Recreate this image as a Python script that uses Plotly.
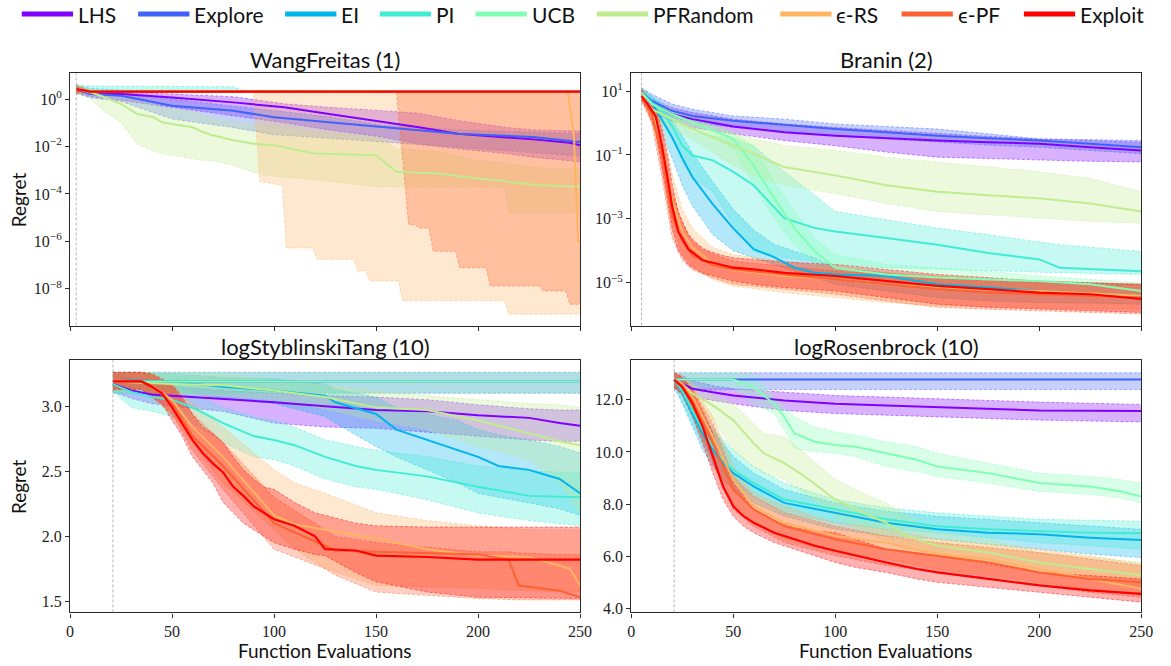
import plotly.graph_objects as go

NAMES = ["LHS", "Explore", "EI", "PI", "UCB", "PFRandom", "ϵ-RS", "ϵ-PF", "Exploit"]
COLORS = ["#8000ff", "#4062fa", "#00b4ec", "#40ecd4", "#80ffb4",
          "#bfec8e", "#ffb462", "#ff6232", "#ff0000"]

X_TICKS = [0, 50, 100, 150, 200, 250]
INIT_EVALS = [3, 5, 21, 21]
PANEL_TITLES = ["WangFreitas (1)", "Branin (2)", "logStyblinskiTang (10)", "logRosenbrock (10)"]

# ---------------- WangFreitas (1): log10 of regret ----------------
WF_LHS_X = [3, 10, 25, 50, 80, 105, 127, 153, 171, 190, 214, 227, 245, 250]
WF_LHS_MED = [0.42, 0.21, 0.21, 0.07, -0.14, -0.35, -0.63, -0.95, -1.19, -1.46, -1.60, -1.70, -1.84, -1.95]
WF_LHS_LO = [0.25, 0.10, -0.05, -0.35, -0.70, -1.00, -1.30, -1.60, -1.90, -2.10, -2.30, -2.45, -2.60, -2.65]
WF_LHS_HI = [0.55, 0.35, 0.30, 0.20, 0.10, -0.20, -0.35, -0.49, -0.60, -0.90, -1.20, -1.30, -1.35, -1.35]

WF_EXP_X = [3, 10, 25, 50, 80, 100, 127, 153, 190, 227, 250]
WF_EXP_MED = [0.42, 0.21, 0.14, -0.28, -0.49, -0.77, -0.98, -1.19, -1.46, -1.60, -1.81]
WF_EXP_LO = [0.25, 0.05, -0.10, -0.84, -1.20, -1.50, -1.65, -1.81, -2.05, -2.25, -2.40]
WF_EXP_HI = [0.55, 0.35, 0.30, 0.00, -0.30, -0.50, -0.75, -1.10, -1.30, -1.40, -1.45]

WF_EI_X = [3, 10, 30, 250]
WF_EI_MED = [0.42, 0.31, 0.31, 0.31]
WF_EI_LO = [0.22, 0.26, 0.29, 0.29]
WF_EI_HI = [0.58, 0.45, 0.36, 0.34]

WF_PI_X = [3, 10, 80, 85, 250]
WF_PI_MED = [0.45, 0.33, 0.31, 0.31, 0.31]
WF_PI_LO = [0.25, 0.28, 0.29, 0.29, 0.29]
WF_PI_HI = [0.60, 0.55, 0.52, 0.36, 0.36]

WF_UCB_X = [3, 10, 250]
WF_UCB_MED = [0.42, 0.31, 0.31]
WF_UCB_LO = [0.25, 0.28, 0.28]
WF_UCB_HI = [0.55, 0.40, 0.34]

WF_PFR_X = [3, 10, 15, 25, 33, 41, 45, 60, 65, 70, 80, 90, 100, 120, 150, 155, 160, 180, 200, 213, 215, 230, 250]
WF_PFR_MED = [0.42, 0.28, 0.14, -0.21, -0.63, -0.77, -0.98, -1.19, -1.39, -1.53, -1.74, -1.88, -1.95, -2.30, -2.37, -2.72, -3.07, -3.14, -3.35, -3.45, -3.50, -3.63, -3.70]
WF_PFR_LO = [0.25, 0.00, -0.40, -1.00, -1.90, -2.20, -2.30, -2.50, -2.58, -2.60, -2.80, -3.10, -3.25, -3.40, -3.70, -3.70, -3.70, -3.70, -3.70, -3.70, -4.80, -4.80, -4.80]
WF_PFR_HI = [0.55, 0.45, 0.35, 0.20, 0.00, -0.20, -0.35, -0.50, -0.65, -0.80, -0.95, -1.05, -1.15, -1.40, -1.60, -1.80, -2.10, -2.20, -2.60, -2.70, -2.75, -2.90, -3.00]

WF_ERS_X = [3, 10, 90, 93, 104, 106, 119, 121, 139, 141, 145, 147, 161, 163, 213, 215, 244, 247, 249, 250]
WF_ERS_MED = [0.42, 0.31, 0.31, 0.31, 0.31, 0.31, 0.31, 0.31, 0.31, 0.31, 0.31, 0.31, 0.31, 0.31, 0.31, 0.31, 0.31, -1.50, -6.00, -6.00]
WF_ERS_LO = [0.22, 0.28, 0.28, -3.49, -3.63, -6.28, -6.28, -6.76, -6.76, -7.25, -7.25, -7.67, -7.67, -8.51, -8.51, -9.07, -9.07, -9.07, -9.07, -9.07]
WF_ERS_HI = [0.58, 0.35, 0.33, 0.33, 0.33, 0.33, 0.33, 0.33, 0.33, 0.33, 0.33, 0.33, 0.33, 0.33, 0.33, 0.33, 0.33, 0.33, 0.33, 0.33]

WF_EPF_X = [3, 10, 160, 166, 169, 171, 176, 178, 189, 191, 204, 206, 230, 232, 243, 245, 250]
WF_EPF_MED = [0.42, 0.31, 0.31, 0.31, 0.31, 0.31, 0.31, 0.31, 0.31, 0.31, 0.31, 0.31, 0.31, 0.31, 0.31, 0.31, 0.31]
WF_EPF_LO = [0.22, 0.28, 0.28, -5.30, -5.30, -5.44, -5.44, -6.42, -6.42, -7.11, -7.11, -7.88, -7.88, -8.09, -8.09, -8.65, -8.65]
WF_EPF_HI = [0.58, 0.35, 0.33, 0.33, 0.33, 0.33, 0.33, 0.33, 0.33, 0.33, 0.33, 0.33, 0.33, 0.33, 0.33, 0.33, 0.33]

WF_EXT_X = [3, 10, 250]
WF_EXT_MED = [0.42, 0.31, 0.31]
WF_EXT_LO = [0.30, 0.29, 0.29]
WF_EXT_HI = [0.50, 0.33, 0.33]

# ---------------- Branin (2): log10 of regret ----------------
BR_LHS_X = [5, 10, 20, 30, 50, 75, 100, 125, 150, 175, 200, 225, 250]
BR_LHS_MED = [0.90, 0.59, 0.28, 0.12, -0.11, -0.29, -0.40, -0.48, -0.55, -0.60, -0.65, -0.76, -0.86]
BR_LHS_LO = [0.69, 0.33, 0.07, -0.14, -0.34, -0.55, -0.71, -0.91, -1.07, -1.12, -1.17, -1.20, -1.22]
BR_LHS_HI = [1.05, 0.74, 0.48, 0.33, 0.12, -0.03, -0.14, -0.24, -0.34, -0.42, -0.50, -0.55, -0.60]

BR_EXP_X = [5, 10, 20, 30, 50, 75, 100, 125, 150, 175, 200, 225, 250]
BR_EXP_MED = [0.95, 0.69, 0.38, 0.22, 0.07, -0.07, -0.19, -0.29, -0.40, -0.48, -0.55, -0.65, -0.76]
BR_EXP_LO = [0.79, 0.48, 0.17, 0.02, -0.14, -0.27, -0.40, -0.50, -0.60, -0.69, -0.76, -0.86, -0.96]
BR_EXP_HI = [1.10, 0.90, 0.59, 0.43, 0.22, 0.12, -0.03, -0.11, -0.19, -0.34, -0.50, -0.52, -0.55]

BR_EI_X = [5, 10, 15, 20, 25, 30, 40, 50, 60, 70, 80, 90, 100, 125, 150, 175, 200, 225, 250]
BR_EI_MED = [0.95, 0.64, 0.10, -0.45, -1.10, -1.70, -2.55, -3.30, -3.95, -4.20, -4.53, -4.69, -4.74, -4.79, -5.05, -5.15, -5.26, -5.36, -5.41]
BR_EI_LO = [0.79, 0.33, -0.35, -1.10, -1.95, -2.60, -3.50, -4.00, -4.22, -4.43, -4.64, -4.84, -5.05, -5.26, -5.46, -5.57, -5.62, -5.64, -5.67]
BR_EI_HI = [1.10, 0.84, 0.55, 0.10, -0.40, -0.95, -1.85, -2.70, -3.35, -3.80, -4.02, -4.22, -4.53, -4.69, -4.84, -4.89, -4.95, -5.00, -5.05]

BR_PI_X = [5, 10, 15, 20, 25, 30, 40, 50, 60, 75, 90, 100, 125, 150, 175, 200, 210, 250]
BR_PI_MED = [0.95, 0.64, 0.38, -0.09, -0.71, -1.02, -1.17, -1.53, -1.95, -2.98, -3.29, -3.40, -3.60, -3.81, -4.07, -4.27, -4.53, -4.64]
BR_PI_LO = [0.79, 0.43, 0.02, -0.50, -1.22, -1.74, -2.15, -3.19, -4.02, -4.22, -4.33, -4.43, -4.53, -4.58, -4.64, -4.69, -4.69, -4.74]
BR_PI_HI = [1.10, 0.84, 0.64, 0.33, 0.02, -0.29, -0.40, -0.50, -0.71, -1.53, -2.26, -2.77, -3.03, -3.29, -3.50, -3.71, -3.81, -4.02]

BR_UCB_X = [5, 10, 20, 30, 40, 50, 60, 70, 80, 90, 100, 125, 150, 175, 200, 225, 250]
BR_UCB_MED = [0.95, 0.59, 0.28, 0.02, -0.24, -0.50, -1.33, -2.36, -3.29, -4.02, -4.53, -4.74, -4.84, -4.89, -4.95, -5.05, -5.26]
BR_UCB_LO = [0.79, 0.43, 0.12, -0.14, -0.45, -0.81, -1.95, -2.98, -3.81, -4.43, -4.84, -4.95, -5.05, -5.15, -5.26, -5.36, -5.46]
BR_UCB_HI = [1.10, 0.74, 0.43, 0.17, -0.09, -0.34, -0.71, -1.84, -2.77, -3.60, -4.12, -4.43, -4.53, -4.64, -4.79, -4.89, -5.00]

BR_PFR_X = [5, 10, 20, 30, 40, 50, 60, 75, 100, 125, 150, 175, 200, 225, 250]
BR_PFR_MED = [0.90, 0.43, 0.12, -0.19, -0.45, -0.71, -0.96, -1.38, -1.64, -1.95, -2.15, -2.26, -2.36, -2.52, -2.77]
BR_PFR_LO = [0.74, 0.17, -0.19, -0.50, -0.91, -1.33, -1.64, -1.95, -2.21, -2.52, -2.77, -2.88, -2.98, -3.08, -3.14]
BR_PFR_HI = [1.05, 0.69, 0.38, 0.12, -0.09, -0.29, -0.50, -0.71, -0.86, -1.07, -1.22, -1.38, -1.53, -1.74, -2.15]

BR_ERS_X = [5, 10, 15, 20, 25, 30, 40, 50, 75, 100, 125, 150, 175, 200, 225, 250]
BR_ERS_MED = [0.87, 0.40, -0.60, -2.40, -3.40, -3.90, -4.40, -4.60, -4.79, -4.89, -5.05, -5.15, -5.23, -5.26, -5.33, -5.41]
BR_ERS_LO = [0.69, 0.10, -1.30, -3.20, -4.10, -4.50, -4.90, -5.10, -5.31, -5.46, -5.62, -5.72, -5.77, -5.79, -5.81, -5.83]
BR_ERS_HI = [1.05, 0.65, 0.00, -1.60, -2.70, -3.30, -3.90, -4.12, -4.33, -4.53, -4.69, -4.79, -4.89, -4.95, -5.00, -5.05]

BR_EPF_X = [5, 10, 15, 20, 25, 30, 40, 50, 75, 100, 125, 150, 175, 200, 225, 250]
BR_EPF_MED = [0.84, 0.30, -1.00, -2.90, -3.70, -4.15, -4.45, -4.58, -4.74, -4.89, -5.05, -5.20, -5.31, -5.36, -5.41, -5.46]
BR_EPF_LO = [0.69, 0.00, -1.70, -3.60, -4.30, -4.60, -4.85, -5.05, -5.20, -5.36, -5.57, -5.77, -5.83, -5.88, -5.93, -5.98]
BR_EPF_HI = [1.05, 0.60, -0.40, -2.20, -3.10, -3.70, -4.10, -4.33, -4.48, -4.64, -4.74, -4.84, -4.95, -5.00, -5.03, -5.05]

BR_EXT_X = [5, 8, 12, 15, 18, 20, 23, 28, 35, 45, 50, 60, 75, 100, 125, 150, 175, 200, 225, 250]
BR_EXT_MED = [0.84, 0.60, 0.20, -0.70, -1.80, -2.60, -3.40, -3.95, -4.30, -4.45, -4.53, -4.58, -4.69, -4.79, -4.95, -5.10, -5.20, -5.31, -5.36, -5.51]
BR_EXT_LO = [0.74, 0.40, -0.30, -1.40, -2.60, -3.30, -4.00, -4.45, -4.70, -4.88, -4.95, -5.05, -5.15, -5.26, -5.46, -5.67, -5.77, -5.83, -5.88, -5.93]
BR_EXT_HI = [1.05, 0.80, 0.45, -0.20, -1.10, -1.90, -2.80, -3.50, -3.95, -4.15, -4.22, -4.27, -4.35, -4.43, -4.58, -4.74, -4.84, -4.95, -5.00, -5.05]

# ---------------- logStyblinskiTang (10) ----------------
ST_LHS_X = [21, 30, 40, 50, 75, 100, 125, 150, 175, 200, 225, 240, 250]
ST_LHS_MED = [3.17, 3.12, 3.09, 3.08, 3.06, 3.03, 3.00, 2.97, 2.96, 2.93, 2.91, 2.87, 2.85]
ST_LHS_LO = [3.11, 3.06, 3.02, 3.00, 2.96, 2.87, 2.84, 2.83, 2.80, 2.77, 2.74, 2.73, 2.73]
ST_LHS_HI = [3.25, 3.21, 3.17, 3.15, 3.12, 3.10, 3.08, 3.07, 3.05, 3.01, 2.98, 2.97, 2.97]

ST_EXP_X = [21, 250]
ST_EXP_MED = [3.19, 3.19]
ST_EXP_LO = [3.10, 3.10]
ST_EXP_HI = [3.26, 3.26]

ST_EI_X = [21, 30, 50, 75, 100, 125, 130, 150, 160, 175, 190, 200, 210, 225, 240, 250]
ST_EI_MED = [3.19, 3.20, 3.19, 3.15, 3.12, 3.08, 3.03, 2.94, 2.82, 2.74, 2.66, 2.61, 2.54, 2.51, 2.44, 2.33]
ST_EI_LO = [3.11, 3.11, 3.12, 3.06, 3.02, 2.92, 2.87, 2.69, 2.61, 2.51, 2.41, 2.33, 2.30, 2.26, 2.21, 2.16]
ST_EI_HI = [3.26, 3.26, 3.25, 3.22, 3.21, 3.17, 3.13, 3.07, 2.99, 2.94, 2.89, 2.82, 2.78, 2.74, 2.69, 2.64]

ST_PI_X = [21, 30, 40, 50, 60, 75, 90, 100, 110, 125, 140, 150, 175, 200, 225, 250]
ST_PI_MED = [3.17, 3.11, 3.07, 3.05, 2.99, 2.87, 2.77, 2.74, 2.70, 2.61, 2.54, 2.51, 2.46, 2.38, 2.31, 2.30]
ST_PI_LO = [3.11, 2.99, 2.96, 2.92, 2.87, 2.72, 2.61, 2.59, 2.54, 2.44, 2.38, 2.36, 2.28, 2.18, 2.12, 2.08]
ST_PI_HI = [3.24, 3.20, 3.17, 3.15, 3.10, 2.99, 2.92, 2.89, 2.84, 2.74, 2.69, 2.66, 2.61, 2.54, 2.50, 2.49]

ST_UCB_X = [21, 250]
ST_UCB_MED = [3.19, 3.19]
ST_UCB_LO = [3.10, 3.10]
ST_UCB_HI = [3.26, 3.26]

ST_PFR_X = [21, 50, 75, 100, 125, 150, 175, 200, 225, 240, 250]
ST_PFR_MED = [3.19, 3.17, 3.16, 3.12, 3.07, 2.99, 2.97, 2.89, 2.79, 2.73, 2.70]
ST_PFR_LO = [3.11, 3.10, 3.08, 3.05, 2.98, 2.89, 2.82, 2.69, 2.59, 2.41, 2.18]
ST_PFR_HI = [3.26, 3.25, 3.24, 3.20, 3.16, 3.11, 3.08, 3.05, 3.02, 3.01, 2.99]

ST_ERS_X = [21, 35, 40, 50, 60, 75, 100, 110, 125, 150, 175, 200, 225, 245, 250]
ST_ERS_MED = [3.19, 3.19, 3.16, 3.05, 2.84, 2.61, 2.16, 2.09, 2.05, 1.98, 1.90, 1.85, 1.84, 1.75, 1.62]
ST_ERS_LO = [3.13, 3.13, 3.07, 2.94, 2.72, 2.41, 2.05, 1.90, 1.75, 1.62, 1.61, 1.60, 1.58, 1.57, 1.57]
ST_ERS_HI = [3.26, 3.26, 3.25, 3.17, 3.02, 2.84, 2.51, 2.41, 2.33, 2.18, 2.12, 2.08, 2.05, 2.05, 2.05]

ST_EPF_X = [21, 35, 40, 50, 60, 75, 100, 125, 130, 150, 200, 215, 220, 240, 250]
ST_EPF_MED = [3.19, 3.19, 3.16, 3.02, 2.77, 2.54, 2.10, 1.93, 1.89, 1.88, 1.86, 1.82, 1.62, 1.58, 1.53]
ST_EPF_LO = [3.13, 3.13, 3.07, 2.94, 2.66, 2.36, 1.90, 1.75, 1.70, 1.57, 1.52, 1.51, 1.51, 1.51, 1.51]
ST_EPF_HI = [3.26, 3.26, 3.24, 3.15, 2.94, 2.72, 2.30, 2.05, 2.00, 1.95, 1.88, 1.88, 1.87, 1.86, 1.86]

ST_EXT_X = [21, 35, 40, 45, 50, 55, 60, 65, 70, 75, 80, 85, 90, 95, 100, 110, 120, 125, 140, 150, 175, 200, 250]
ST_EXT_MED = [3.19, 3.19, 3.15, 3.10, 2.99, 2.87, 2.74, 2.64, 2.56, 2.49, 2.38, 2.31, 2.23, 2.18, 2.13, 2.08, 2.00, 1.90, 1.89, 1.85, 1.84, 1.82, 1.82]
ST_EXT_LO = [3.13, 3.13, 3.07, 3.02, 2.89, 2.77, 2.61, 2.51, 2.41, 2.26, 2.18, 2.10, 2.05, 2.00, 1.95, 1.90, 1.86, 1.85, 1.72, 1.65, 1.57, 1.53, 1.52]
ST_EXT_HI = [3.26, 3.26, 3.25, 3.21, 3.17, 3.07, 2.94, 2.84, 2.79, 2.72, 2.61, 2.51, 2.44, 2.38, 2.36, 2.26, 2.18, 2.16, 2.10, 2.08, 2.07, 2.07, 2.07]

# ---------------- logRosenbrock (10) ----------------
RB_LHS_X = [21, 25, 30, 40, 50, 75, 100, 125, 150, 175, 200, 250]
RB_LHS_MED = [12.77, 12.61, 12.42, 12.29, 12.16, 11.97, 11.85, 11.78, 11.72, 11.66, 11.59, 11.57]
RB_LHS_LO = [12.48, 12.29, 12.10, 11.97, 11.85, 11.59, 11.47, 11.41, 11.34, 11.28, 11.22, 11.15]
RB_LHS_HI = [13.03, 12.92, 12.73, 12.54, 12.42, 12.29, 12.16, 12.10, 12.04, 11.97, 11.91, 11.82]

RB_EXP_X = [21, 250]
RB_EXP_MED = [12.77, 12.77]
RB_EXP_LO = [12.39, 12.39]
RB_EXP_HI = [13.03, 13.03]

RB_EI_X = [21, 25, 30, 35, 40, 45, 50, 60, 75, 100, 125, 150, 175, 200, 225, 250]
RB_EI_MED = [12.77, 12.29, 11.47, 10.71, 10.08, 9.57, 9.19, 8.68, 8.05, 7.67, 7.29, 7.04, 6.91, 6.85, 6.72, 6.63]
RB_EI_LO = [12.48, 11.85, 10.96, 10.08, 9.44, 8.94, 8.56, 8.05, 7.54, 7.04, 6.78, 6.66, 6.47, 6.28, 6.09, 5.96]
RB_EI_HI = [13.03, 12.67, 11.97, 11.34, 10.84, 10.33, 9.82, 9.19, 8.56, 8.05, 7.73, 7.54, 7.42, 7.29, 7.16, 7.04]

RB_PI_X = [21, 25, 30, 35, 40, 45, 50, 60, 75, 100, 125, 150, 175, 200, 225, 250]
RB_PI_MED = [12.77, 12.35, 11.59, 10.84, 10.20, 9.70, 9.32, 8.81, 8.18, 7.80, 7.42, 7.16, 7.04, 6.97, 6.91, 6.89]
RB_PI_LO = [12.48, 11.97, 11.09, 10.33, 9.70, 9.19, 8.81, 8.30, 7.67, 7.29, 7.04, 6.91, 6.72, 6.53, 6.41, 6.28]
RB_PI_HI = [13.03, 12.73, 12.10, 11.47, 10.96, 10.46, 10.08, 9.44, 8.81, 8.18, 7.86, 7.67, 7.54, 7.42, 7.39, 7.35]

RB_UCB_X = [21, 50, 60, 70, 75, 80, 90, 100, 110, 125, 140, 150, 175, 200, 225, 240, 250]
RB_UCB_MED = [12.77, 12.77, 12.48, 11.85, 11.34, 10.71, 10.39, 10.27, 10.20, 9.95, 9.70, 9.44, 9.19, 8.81, 8.68, 8.49, 8.30]
RB_UCB_LO = [12.48, 12.48, 11.85, 11.47, 10.84, 10.14, 10.01, 9.95, 9.82, 9.44, 9.25, 9.06, 8.81, 8.49, 8.37, 8.24, 8.05]
RB_UCB_HI = [13.03, 13.03, 12.92, 12.10, 11.72, 11.34, 10.96, 10.77, 10.65, 10.39, 10.20, 9.95, 9.57, 9.19, 9.06, 8.94, 8.81]

RB_PFR_X = [21, 25, 30, 40, 50, 60, 65, 75, 85, 100, 110, 125, 135, 150, 175, 200, 225, 250]
RB_PFR_MED = [12.77, 12.61, 12.23, 11.78, 11.22, 10.33, 9.95, 9.57, 9.06, 8.18, 7.80, 7.29, 6.78, 6.41, 6.15, 5.77, 5.52, 5.27]
RB_PFR_LO = [12.48, 12.29, 11.85, 11.22, 10.08, 9.44, 9.19, 8.94, 8.43, 7.54, 7.16, 6.53, 6.28, 6.15, 5.77, 5.39, 5.14, 4.82]
RB_PFR_HI = [13.03, 12.86, 12.61, 12.16, 11.85, 11.09, 10.71, 10.58, 9.95, 8.94, 8.56, 8.05, 7.54, 6.91, 6.66, 6.15, 5.96, 5.77]

RB_ERS_X = [21, 25, 30, 40, 50, 60, 75, 100, 125, 150, 175, 200, 225, 250]
RB_ERS_MED = [12.77, 12.61, 12.10, 10.58, 8.94, 7.92, 7.29, 6.78, 6.53, 6.09, 5.90, 5.52, 5.14, 4.76]
RB_ERS_LO = [12.48, 12.29, 11.72, 9.82, 8.05, 7.29, 6.66, 6.15, 5.90, 5.52, 5.27, 5.01, 4.76, 4.51]
RB_ERS_HI = [13.03, 12.92, 12.54, 11.34, 9.44, 8.43, 7.92, 7.29, 7.04, 6.66, 6.47, 6.28, 6.03, 5.71]

RB_EPF_X = [21, 25, 30, 40, 50, 60, 75, 100, 125, 150, 175, 200, 225, 250]
RB_EPF_MED = [12.77, 12.54, 11.97, 10.33, 8.56, 7.80, 7.16, 6.66, 6.28, 6.03, 5.77, 5.39, 5.14, 5.01]
RB_EPF_LO = [12.48, 12.23, 11.47, 9.57, 7.80, 7.16, 6.53, 6.03, 5.65, 5.39, 5.14, 4.89, 4.63, 4.44]
RB_EPF_HI = [13.03, 12.86, 12.42, 11.09, 9.06, 8.30, 7.67, 7.16, 6.78, 6.53, 6.34, 6.15, 5.90, 5.65]

RB_EXT_X = [21, 25, 30, 35, 40, 45, 50, 55, 60, 70, 80, 90, 100, 110, 125, 140, 150, 175, 200, 225, 250]
RB_EXT_MED = [12.77, 12.48, 11.85, 10.96, 9.82, 8.68, 7.92, 7.54, 7.29, 6.91, 6.66, 6.41, 6.22, 6.03, 5.77, 5.52, 5.39, 5.14, 4.89, 4.70, 4.57]
RB_EXT_LO = [12.48, 12.16, 11.34, 10.33, 9.19, 8.18, 7.54, 7.16, 6.91, 6.53, 6.28, 6.03, 5.77, 5.58, 5.39, 5.14, 5.01, 4.82, 4.63, 4.44, 4.25]
RB_EXT_HI = [13.03, 12.86, 12.35, 11.59, 10.71, 9.70, 8.81, 8.30, 7.80, 7.35, 7.10, 6.97, 6.91, 6.66, 6.28, 6.09, 6.03, 5.71, 5.39, 5.27, 5.14]

PANELS = [
    [(WF_LHS_X, WF_LHS_MED, WF_LHS_LO, WF_LHS_HI), (WF_EXP_X, WF_EXP_MED, WF_EXP_LO, WF_EXP_HI),
     (WF_EI_X, WF_EI_MED, WF_EI_LO, WF_EI_HI), (WF_PI_X, WF_PI_MED, WF_PI_LO, WF_PI_HI),
     (WF_UCB_X, WF_UCB_MED, WF_UCB_LO, WF_UCB_HI), (WF_PFR_X, WF_PFR_MED, WF_PFR_LO, WF_PFR_HI),
     (WF_ERS_X, WF_ERS_MED, WF_ERS_LO, WF_ERS_HI), (WF_EPF_X, WF_EPF_MED, WF_EPF_LO, WF_EPF_HI),
     (WF_EXT_X, WF_EXT_MED, WF_EXT_LO, WF_EXT_HI)],
    [(BR_LHS_X, BR_LHS_MED, BR_LHS_LO, BR_LHS_HI), (BR_EXP_X, BR_EXP_MED, BR_EXP_LO, BR_EXP_HI),
     (BR_EI_X, BR_EI_MED, BR_EI_LO, BR_EI_HI), (BR_PI_X, BR_PI_MED, BR_PI_LO, BR_PI_HI),
     (BR_UCB_X, BR_UCB_MED, BR_UCB_LO, BR_UCB_HI), (BR_PFR_X, BR_PFR_MED, BR_PFR_LO, BR_PFR_HI),
     (BR_ERS_X, BR_ERS_MED, BR_ERS_LO, BR_ERS_HI), (BR_EPF_X, BR_EPF_MED, BR_EPF_LO, BR_EPF_HI),
     (BR_EXT_X, BR_EXT_MED, BR_EXT_LO, BR_EXT_HI)],
    [(ST_LHS_X, ST_LHS_MED, ST_LHS_LO, ST_LHS_HI), (ST_EXP_X, ST_EXP_MED, ST_EXP_LO, ST_EXP_HI),
     (ST_EI_X, ST_EI_MED, ST_EI_LO, ST_EI_HI), (ST_PI_X, ST_PI_MED, ST_PI_LO, ST_PI_HI),
     (ST_UCB_X, ST_UCB_MED, ST_UCB_LO, ST_UCB_HI), (ST_PFR_X, ST_PFR_MED, ST_PFR_LO, ST_PFR_HI),
     (ST_ERS_X, ST_ERS_MED, ST_ERS_LO, ST_ERS_HI), (ST_EPF_X, ST_EPF_MED, ST_EPF_LO, ST_EPF_HI),
     (ST_EXT_X, ST_EXT_MED, ST_EXT_LO, ST_EXT_HI)],
    [(RB_LHS_X, RB_LHS_MED, RB_LHS_LO, RB_LHS_HI), (RB_EXP_X, RB_EXP_MED, RB_EXP_LO, RB_EXP_HI),
     (RB_EI_X, RB_EI_MED, RB_EI_LO, RB_EI_HI), (RB_PI_X, RB_PI_MED, RB_PI_LO, RB_PI_HI),
     (RB_UCB_X, RB_UCB_MED, RB_UCB_LO, RB_UCB_HI), (RB_PFR_X, RB_PFR_MED, RB_PFR_LO, RB_PFR_HI),
     (RB_ERS_X, RB_ERS_MED, RB_ERS_LO, RB_ERS_HI), (RB_EPF_X, RB_EPF_MED, RB_EPF_LO, RB_EPF_HI),
     (RB_EXT_X, RB_EXT_MED, RB_EXT_LO, RB_EXT_HI)],
]
LOG_PANEL = [True, True, False, False]

# ---------------- layout geometry (pixels of the 1171x666 page) ----------------
W, H = 1171, 666
XDOM = [[67 / W, 584 / W], [636 / W, 1153 / W], [67 / W, 584 / W], [636 / W, 1153 / W]]
YDOM = [[1 - 328 / H, 1 - 74 / H], [1 - 328 / H, 1 - 74 / H], [1 - 617 / H, 1 - 363 / H], [1 - 617 / H, 1 - 363 / H]]
YRANGE = [[-9.55, 1.08], [-6.34, 1.55], [1.414, 3.353], [3.86, 13.51]]
LEGEND_LINE_START = [18, 136, 285, 381, 478, 601, 787, 910, 1034]
LEGEND_LINE_LEN = 52
LEGEND_Y = 14

TICK_FONT = dict(family="Liberation Serif, DejaVu Serif, serif", size=16, color="#222")
TEXT_FONT = "Lato, 'Open Sans', sans-serif"


def rgba(hexc, a):
    h = hexc.lstrip("#")
    return "rgba(%d,%d,%d,%.2f)" % (int(h[0:2], 16), int(h[2:4], 16), int(h[4:6], 16), a)


def conv(vals, log):
    return [10 ** v for v in vals] if log else list(vals)


fig = go.Figure()

for p in range(4):
    xa = "x" if p == 0 else "x%d" % (p + 1)
    ya = "y" if p == 0 else "y%d" % (p + 1)
    log = LOG_PANEL[p]
    # bands first (below all median lines, as matplotlib collections are)
    for i, (xs, med, lo, hi) in enumerate(PANELS[p]):
        c = COLORS[i]
        fig.add_trace(go.Scatter(x=xs, y=conv(lo, log), mode="lines", xaxis=xa, yaxis=ya,
                                 line=dict(color=rgba(c, 0.45), width=1, dash="3px,2px"),
                                 showlegend=False, hoverinfo="skip"))
        fig.add_trace(go.Scatter(x=xs, y=conv(hi, log), mode="lines", xaxis=xa, yaxis=ya,
                                 fill="tonexty", fillcolor=rgba(c, 0.3),
                                 line=dict(color=rgba(c, 0.45), width=1, dash="3px,2px"),
                                 showlegend=False, hoverinfo="skip"))
    for i, (xs, med, lo, hi) in enumerate(PANELS[p]):
        fig.add_trace(go.Scatter(x=xs, y=conv(med, log), mode="lines", xaxis=xa, yaxis=ya,
                                 line=dict(color=COLORS[i], width=2.2 if i == 8 else 2),
                                 name=NAMES[i], showlegend=False))

layout = dict(
    width=W, height=H, margin=dict(l=0, r=0, t=0, b=0),
    paper_bgcolor="white", plot_bgcolor="white", showlegend=False,
)

AXSTYLE = dict(showline=True, linecolor="#2a2a2a", linewidth=1.3, mirror=True,
               ticks="outside", ticklen=4, tickwidth=1, tickcolor="#2a2a2a",
               showgrid=False, zeroline=False, tickfont=TICK_FONT)

annotations = []
shapes = []
for p in range(4):
    xk = "xaxis" if p == 0 else "xaxis%d" % (p + 1)
    yk = "yaxis" if p == 0 else "yaxis%d" % (p + 1)
    anchor_x = "y" if p == 0 else "y%d" % (p + 1)
    anchor_y = "x" if p == 0 else "x%d" % (p + 1)
    layout[xk] = dict(domain=XDOM[p], anchor=anchor_x, range=[0, 250],
                      tickvals=X_TICKS, showticklabels=(p >= 2), **AXSTYLE)
    if p == 0:
        tv = [1e-8, 1e-6, 1e-4, 1e-2, 1]
        tt = ["10<sup>−8</sup>", "10<sup>−6</sup>", "10<sup>−4</sup>", "10<sup>−2</sup>", "10<sup>0</sup>"]
        layout[yk] = dict(domain=YDOM[p], anchor=anchor_y, type="log", range=YRANGE[p],
                          tickvals=tv, ticktext=tt, **AXSTYLE)
    elif p == 1:
        tv = [1e-5, 1e-3, 1e-1, 10]
        tt = ["10<sup>−5</sup>", "10<sup>−3</sup>", "10<sup>−1</sup>", "10<sup>1</sup>"]
        layout[yk] = dict(domain=YDOM[p], anchor=anchor_y, type="log", range=YRANGE[p],
                          tickvals=tv, ticktext=tt, **AXSTYLE)
    elif p == 2:
        layout[yk] = dict(domain=YDOM[p], anchor=anchor_y, range=YRANGE[p],
                          tickvals=[1.5, 2.0, 2.5, 3.0], tickformat=".1f", **AXSTYLE)
    else:
        layout[yk] = dict(domain=YDOM[p], anchor=anchor_y, range=YRANGE[p],
                          tickvals=[4, 6, 8, 10, 12], tickformat=".1f", **AXSTYLE)

    xc = (XDOM[p][0] + XDOM[p][1]) / 2
    annotations.append(dict(text=PANEL_TITLES[p], x=xc, y=YDOM[p][1], xref="paper", yref="paper",
                            xanchor="center", yanchor="bottom", showarrow=False, yshift=-2,
                            font=dict(family=TEXT_FONT, size=22, color="#111")))
    shapes.append(dict(type="line", xref=("x" if p == 0 else "x%d" % (p + 1)),
                       yref=("y domain" if p == 0 else "y%d domain" % (p + 1)),
                       x0=INIT_EVALS[p], x1=INIT_EVALS[p], y0=0, y1=1,
                       line=dict(color="rgba(150,150,150,0.7)", width=1, dash="3px,2px")))

for p in (0, 2):
    yc = (YDOM[p][0] + YDOM[p][1]) / 2
    annotations.append(dict(text="Regret", x=15 / W, y=yc, xref="paper", yref="paper",
                            xanchor="center", yanchor="middle", textangle=-90, showarrow=False,
                            font=dict(family=TEXT_FONT, size=19, color="#111")))
for p in (2, 3):
    xc = (XDOM[p][0] + XDOM[p][1]) / 2
    annotations.append(dict(text="Function Evaluations", x=xc, y=1 - 655 / H, xref="paper", yref="paper",
                            xanchor="center", yanchor="middle", showarrow=False,
                            font=dict(family=TEXT_FONT, size=19, color="#111")))

# legend drawn as line samples + text labels along the top
for i, n in enumerate(NAMES):
    x0 = LEGEND_LINE_START[i]
    shapes.append(dict(type="line", xref="paper", yref="paper",
                       x0=x0 / W, x1=(x0 + LEGEND_LINE_LEN) / W,
                       y0=1 - LEGEND_Y / H, y1=1 - LEGEND_Y / H,
                       line=dict(color=COLORS[i], width=5)))
    annotations.append(dict(text=n, x=(x0 + LEGEND_LINE_LEN + 3) / W, y=1 - (LEGEND_Y + 1) / H,
                            xref="paper", yref="paper", xanchor="left", yanchor="middle",
                            showarrow=False, font=dict(family=TEXT_FONT, size=21, color="#111")))

layout["annotations"] = annotations
layout["shapes"] = shapes
fig.update_layout(**layout)

fig.write_html("out.html")
